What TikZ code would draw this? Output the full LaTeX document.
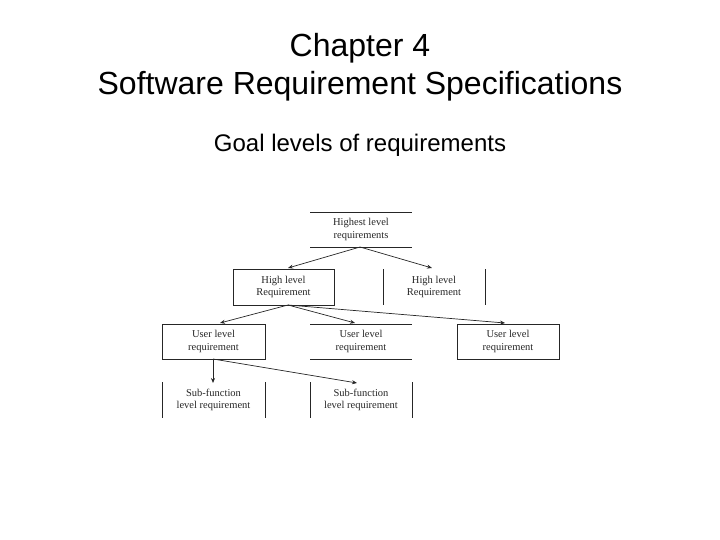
\documentclass[tikz,border=0pt]{standalone}
\usepackage{fontspec}
\usetikzlibrary{arrows.meta}
\setmainfont{Liberation Serif}
\newfontfamily\arialf{Liberation Sans}
\begin{document}
\begin{tikzpicture}[x=1bp,y=-1bp,
  ln/.style={draw=black!85,line width=0.7bp},
  arr/.style={ln,-{Stealth[length=5bp,width=4bp]}},
  lbl/.style={font=\fontsize{10.5bp}{12.5bp}\selectfont,align=center,text=black!85}]
\useasboundingbox (0,0) rectangle (720,540);
\node[font=\arialf\fontsize{32bp}{38bp}\selectfont,align=center] (title) at (360,67) {Chapter 4\\Software Requirement Specifications};
\node[font=\arialf\fontsize{24bp}{28bp}\selectfont] (sub) at (360,145) {Goal levels of requirements};
% top
\draw[ln] (310,212) -- (412,212) (310,247) -- (412,247);
\node[lbl] (top) at (361,229.5) {Highest level\\requirements};
% high level
\draw[ln] (233,269) rectangle (334,305);
\node[lbl] (h1) at (283.5,287) {High level\\Requirement};
\draw[ln] (383,269) -- (383,305) (485,269) -- (485,305);
\node[lbl] (h2) at (434,287) {High level\\Requirement};
% user level
\draw[ln] (162,324) rectangle (265,359);
\node[lbl] (u1) at (213.5,341.5) {User level\\requirement};
\draw[ln] (310,324) -- (412,324) (310,359) -- (412,359);
\node[lbl] (u2) at (361,341.5) {User level\\requirement};
\draw[ln] (457,324) rectangle (559,359);
\node[lbl] (u3) at (508,341.5) {User level\\requirement};
% sub
\draw[ln] (162,382) -- (162,418) (265,382) -- (265,418);
\node[lbl] (s1) at (213.5,400) {Sub-function\\level requirement};
\draw[ln] (310,382) -- (310,418) (412,382) -- (412,418);
\node[lbl] (s2) at (361,400) {Sub-function\\level requirement};
% arrows
\coordinate (ta) at (360,247);
\coordinate (ha) at (288,305);
\coordinate (ua) at (213,359);
\draw[arr] (ta) -- (288,268);
\draw[arr] (ta) -- (432,268);
\draw[arr] (ha) -- (220,323);
\draw[arr] (ha) -- (355,323);
\draw[arr] (ha) -- (505,323);
\draw[arr] (ua) -- (213,383);
\draw[arr] (ua) -- (357,383);
\end{tikzpicture}
\end{document}
